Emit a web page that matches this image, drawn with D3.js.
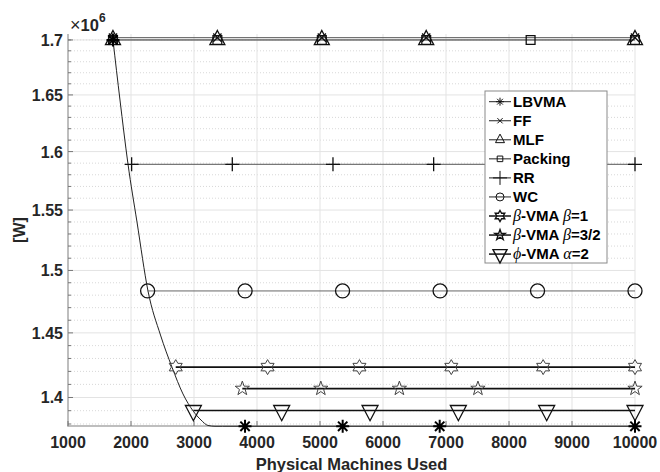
<!DOCTYPE html>
<html><head><meta charset="utf-8">
<script src="https://cdn.jsdelivr.net/npm/d3@7"></script>
<style>body{margin:0;background:#fff}</style>
</head><body><svg id="c" width="660" height="472"></svg>
<script>
// ---------------- data ----------------
const xTicks = [1000,2000,3000,4000,5000,6000,7000,8000,9000,10000];
const yTicks = [1.40e6,1.45e6,1.50e6,1.55e6,1.60e6,1.65e6,1.70e6];
const yTickLabels = ["1.4","1.45","1.5","1.55","1.6","1.65","1.7"];
const yMinorTicks = [1.38e6,1.39e6,1.41e6,1.42e6,1.43e6,1.44e6,1.46e6,1.47e6,1.48e6,1.49e6,
  1.51e6,1.52e6,1.53e6,1.54e6,1.56e6,1.57e6,1.58e6,1.59e6,1.61e6,1.62e6,1.63e6,1.64e6,
  1.66e6,1.67e6,1.68e6,1.69e6,1.70e6];

// LBVMA: decaying curve then flat
const lbvmaX = [1714,1825,1952,2095,2270,2468,2651,2825,2989,3111,3222,3333,3450,10000];
const lbvmaY = [1.7000e6,1.6455e6,1.5893e6,1.5400e6,1.4833e6,1.4483e6,1.4232e6,1.4027e6,1.3896e6,1.3830e6,1.3789e6,1.3783e6,1.3783e6,1.3783e6];
const lbvmaMarkX = [1714,3810,5360,6900,10000];
const lbvmaMarkY = [1.7000e6,1.3783e6,1.3783e6,1.3783e6,1.3783e6];

// Horizontal series
const names   = ["FF","MLF","Packing","RR","WC","b1","b32","phi"];
const levels  = [1.7021e6,1.7000e6,1.7000e6,1.5890e6,1.4834e6,1.4233e6,1.4068e6,1.3901e6];
const startX  = [1714,1714,1714,2010,2264,2710,3767,2990];
const endX    = [10000,10000,10000,10000,10000,10000,10000,10000];
const markerX = [
  [1714,3371,5029,6686,10000],
  [1714,3371,5029,6686,10000],
  [1714,3371,5029,6686,8343,10000],
  [2010,3608,5206,6804,8402,10000],
  [2264,3811,5358,6906,8453,10000],
  [2710,4168,5626,7084,8542,10000],
  [3767,5013,6260,7507,10000],
  [2990,4392,5794,7196,8598,10000]
];
const markerType = ["x","^","s","+","o","h","p","v"];
const lineColor  = ["#555","#777","#666","#555","#666","#111","#111","#111"];
const lineWidth  = [1,1,1,1,1,1.6,1.6,1.6];
const markColor  = ["#111","#111","#111","#111","#111","#444","#444","#111"];

const legendLabels = [
  [{t:"LBVMA"}],[{t:"FF"}],[{t:"MLF"}],[{t:"Packing"}],[{t:"RR"}],[{t:"WC"}],
  [{t:"β",i:1},{t:"-VMA "},{t:"β",i:1},{t:"=1"}],
  [{t:"β",i:1},{t:"-VMA "},{t:"β",i:1},{t:"=3/2"}],
  [{t:"ϕ",i:1},{t:"-VMA "},{t:"α",i:1},{t:"=2"}]
];
const legendMarkers = ["*","x","^","s","+","o","h","p","v"];

// ---------------- drawing ----------------
const svg = d3.select("#c");
const x = d3.scaleLinear().domain([1000,10000]).range([68,635]);
const y = d3.scaleLog().domain([1.3785e6,1.7055e6]).range([426,34]);
const FONT = "Liberation Sans, Arial, Helvetica, sans-serif";

// grid
const g = svg.append("g");
g.selectAll(".ym").data(yMinorTicks).join("line")
  .attr("x1",68).attr("x2",635).attr("y1",d=>y(d)).attr("y2",d=>y(d))
  .attr("stroke","#d4d4d4").attr("stroke-width",0.9).attr("stroke-dasharray","1,2");
g.selectAll(".yM").data(yTicks).join("line")
  .attr("x1",68).attr("x2",635).attr("y1",d=>y(d)).attr("y2",d=>y(d))
  .attr("stroke","#e3e3e3").attr("stroke-width",1);
g.selectAll(".xM").data(xTicks.slice(1)).join("line")
  .attr("y1",34).attr("y2",426).attr("x1",d=>x(d)).attr("x2",d=>x(d))
  .attr("stroke","#e3e3e3").attr("stroke-width",1);

// axes lines + ticks
const ax = svg.append("g");
ax.append("line").attr("x1",68).attr("x2",68).attr("y1",34).attr("y2",426.5).attr("stroke","#a8a8a8").attr("stroke-width",1.5);
ax.append("line").attr("x1",67.5).attr("x2",635).attr("y1",426).attr("y2",426).attr("stroke","#a8a8a8").attr("stroke-width",1.5);
ax.selectAll(".ytm").data(yMinorTicks).join("line")
  .attr("x1",68).attr("x2",71).attr("y1",d=>y(d)).attr("y2",d=>y(d)).attr("stroke","#777");
ax.selectAll(".ytM").data(yTicks).join("line")
  .attr("x1",68).attr("x2",73).attr("y1",d=>y(d)).attr("y2",d=>y(d)).attr("stroke","#777");
ax.selectAll(".xt").data(xTicks).join("line")
  .attr("y1",426).attr("y2",421).attr("x1",d=>x(d)).attr("x2",d=>x(d)).attr("stroke","#777");

ax.selectAll(".yl").data(yTicks).join("text")
  .attr("x",63).attr("y",d=>y(d)+6).attr("text-anchor","end")
  .attr("font-family",FONT).attr("font-weight","bold").attr("font-size",16).attr("fill","#262626")
  .text((d,i)=>yTickLabels[i]);
ax.selectAll(".xl").data(xTicks).join("text")
  .attr("x",d=>x(d)).attr("y",448).attr("text-anchor","middle")
  .attr("font-family",FONT).attr("font-weight","bold").attr("font-size",16).attr("fill","#262626")
  .text(d=>d);

svg.append("text").attr("x",351.5).attr("y",470).attr("text-anchor","middle")
  .attr("font-family",FONT).attr("font-weight","bold").attr("font-size",16.5).attr("fill","#262626")
  .text("Physical Machines Used");
svg.append("text").attr("transform","translate(25,230) rotate(-90)").attr("text-anchor","middle")
  .attr("font-family",FONT).attr("font-weight","bold").attr("font-size",16).attr("fill","#262626")
  .text("[W]");
const ex = svg.append("text").attr("x",70).attr("y",31).attr("font-family",FONT).attr("fill","#262626").attr("font-size",17);
ex.append("tspan").attr("font-size",18).text("×");
ex.append("tspan").attr("font-size",16.5).attr("font-weight","bold").text("10");
ex.append("tspan").attr("font-size",12).attr("font-weight","bold").attr("dy",-9).text("6");

// marker paths
function markerPath(type, s) {
  const r = s/2;
  switch(type) {
    case "o": return `M${r},0A${r},${r} 0 1,1 ${-r},0A${r},${r} 0 1,1 ${r},0Z`;
    case "s": { const a=r*0.8; return `M${-a},${-a}H${a}V${a}H${-a}Z`; }
    case "+": return `M${-r},0H${r}M0,${-r}V${r}`;
    case "x": { const a=r*0.75; return `M${-a},${-a}L${a},${a}M${-a},${a}L${a},${-a}`; }
    case "*": { const a=r*0.72; return `M${-r},0H${r}M0,${-r}V${r}M${-a},${-a}L${a},${a}M${-a},${a}L${a},${-a}`; }
    case "^": { const h=s*0.95, w=s*1.0; return `M0,${-2*h/3}L${w/2},${h/3}L${-w/2},${h/3}Z`; }
    case "v": { const h=s*0.95, w=s*1.0; return `M0,${2*h/3}L${w/2},${-h/3}L${-w/2},${-h/3}Z`; }
    case "h": case "p": {
      const n = type==="h"?6:5, R=r, ri = type==="h"? r*0.577 : r*0.40;
      let p=""; for(let k=0;k<2*n;k++){ const ang=-Math.PI/2 + k*Math.PI/n; const rr = k%2?ri:R;
        p += (k?"L":"M")+(rr*Math.cos(ang)).toFixed(2)+","+(rr*Math.sin(ang)).toFixed(2); }
      return p+"Z";
    }
  }
}
const mSize = {"o":14,"s":11,"+":14,"x":11,"*":13,"^":15,"v":16,"h":15,"p":15};

// LBVMA curve
const lineGen = d3.line().x(d=>x(d[0])).y(d=>y(d[1])).curve(d3.curveMonotoneX);
svg.append("path").attr("d",lineGen(lbvmaX.map((v,i)=>[v,lbvmaY[i]])))
  .attr("fill","none").attr("stroke","#222").attr("stroke-width",1);

// horizontal series
names.forEach((n,i)=>{
  svg.append("line").attr("x1",x(startX[i])).attr("x2",x(endX[i]))
    .attr("y1",y(levels[i])).attr("y2",y(levels[i]))
    .attr("stroke",lineColor[i]).attr("stroke-width",lineWidth[i]);
});
names.forEach((n,i)=>{
  const t = markerType[i];
  svg.append("g").selectAll("path").data(markerX[i]).join("path")
    .attr("transform",d=>`translate(${x(d)},${y(levels[i])})`)
    .attr("d",markerPath(t,mSize[t])).attr("fill","none")
    .attr("stroke",markColor[i]).attr("stroke-width",t==="h"||t==="p"?1:1.3);
});
svg.append("g").selectAll("path").data(lbvmaMarkX).join("path")
  .attr("transform",(d,i)=>`translate(${x(d)},${y(lbvmaMarkY[i])})`)
  .attr("d",markerPath("*",mSize["*"])).attr("fill","none").attr("stroke","#000").attr("stroke-width",2);

// legend
const lg = svg.append("g");
lg.append("rect").attr("x",485).attr("y",91).attr("width",122).attr("height",172)
  .attr("fill","#fff").attr("stroke","#8a8a8a").attr("stroke-width",1);
legendLabels.forEach((parts,i)=>{
  const cy = 101.7 + i*19.05;
  lg.append("line").attr("x1",489).attr("x2",511).attr("y1",cy).attr("y2",cy).attr("stroke","#222").attr("stroke-width",i>=6?1.6:1);
  const t = legendMarkers[i];
  const sz = {"*":8,"x":7,"^":9,"s":7,"+":14,"o":8,"h":11,"p":11,"v":14}[t];
  lg.append("path").attr("transform",`translate(500,${cy})`).attr("d",markerPath(t,sz))
    .attr("fill","none").attr("stroke","#111").attr("stroke-width",i>=6?1.4:1);
  const tx = lg.append("text").attr("x",513).attr("y",cy+5.3).attr("font-size",15).attr("fill","#000");
  parts.forEach(p=>{
    const ts = tx.append("tspan").text(p.t);
    if(p.i) ts.attr("font-family","Liberation Serif, DejaVu Serif, serif").attr("font-style","italic").attr("font-size",16);
    else ts.attr("font-family",FONT).attr("font-weight","bold");
  });
});
</script></body></html>
